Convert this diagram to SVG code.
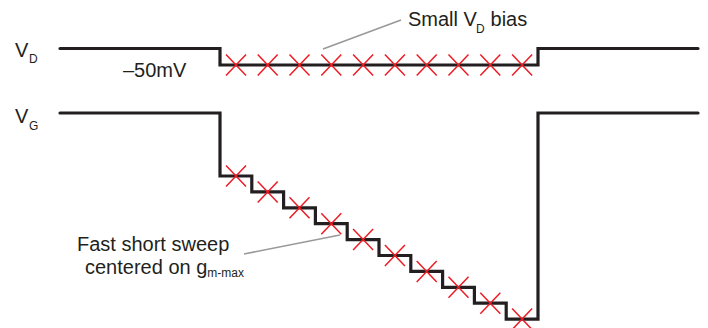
<svg xmlns="http://www.w3.org/2000/svg" xmlns:xlink="http://www.w3.org/1999/xlink" width="708" height="328" viewBox="0 0 708 328">
  <style>
    .trace { fill: none; stroke: #231f20; stroke-width: 3.2; stroke-linejoin: miter; stroke-linecap: round; }
    .mark { fill: none; stroke: #ed1c24; stroke-width: 1.5; }
    .leader { fill: none; stroke: #999999; stroke-width: 1.6; }
    .lbl { font-family: "Liberation Sans", Arial, sans-serif; font-size: 20px; fill: #231f20; }
    .sig { font-family: "Liberation Sans", Arial, sans-serif; font-size: 20px; fill: #231f20; }
    .sub { font-size: 12px; }
  </style>
  <defs>
    <!-- sample point marker -->
    <path id="x" class="mark" d="M-10,-10.5 L10,10.5 M-10,10.5 L10,-10.5"/>
  </defs>

  <!-- drain voltage: -50 mV pulse -->
  <g id="vd-trace">
    <path class="trace" d="M60,48.5 H220 V65 H538 V48.5 H698"/>
    <g id="vd-samples">
      <use xlink:href="#x" x="236" y="65"/>
      <use xlink:href="#x" x="267.7" y="65"/>
      <use xlink:href="#x" x="299.5" y="65"/>
      <use xlink:href="#x" x="331.3" y="65"/>
      <use xlink:href="#x" x="363.1" y="65"/>
      <use xlink:href="#x" x="394.9" y="65"/>
      <use xlink:href="#x" x="426.7" y="65"/>
      <use xlink:href="#x" x="458.5" y="65"/>
      <use xlink:href="#x" x="490.3" y="65"/>
      <use xlink:href="#x" x="522.1" y="65"/>
    </g>
  </g>

  <!-- gate voltage: staircase sweep -->
  <g id="vg-trace">
    <path class="trace" d="M60,113 H220 V176 H251.8 V191.9 H283.6 V207.8 H315.4 V223.7 H347.2 V239.6 H379 V255.5 H410.8 V271.4 H442.6 V287.3 H474.4 V303.2 H506.2 V319.1 H538 V113 H698"/>
    <g id="vg-samples">
      <use xlink:href="#x" x="236" y="176"/>
      <use xlink:href="#x" x="267.7" y="191.9"/>
      <use xlink:href="#x" x="299.5" y="207.8"/>
      <use xlink:href="#x" x="331.3" y="223.7"/>
      <use xlink:href="#x" x="363.1" y="239.6"/>
      <use xlink:href="#x" x="394.9" y="255.5"/>
      <use xlink:href="#x" x="426.7" y="271.4"/>
      <use xlink:href="#x" x="458.5" y="287.3"/>
      <use xlink:href="#x" x="490.3" y="303.2"/>
      <use xlink:href="#x" x="522.1" y="319.1"/>
    </g>
  </g>

  <!-- callout leader lines -->
  <g id="connectors">
    <line class="leader" x1="323" y1="49" x2="401" y2="20"/>
    <line class="leader" x1="244" y1="254" x2="340" y2="235"/>
  </g>

  <g id="label-vd">
    <text class="sig" x="15" y="57">V<tspan class="sub" x="29" y="63">D</tspan></text>
  </g>
  <g id="label-vg">
    <text class="sig" x="15" y="123">V<tspan class="sub" x="29" y="130">G</tspan></text>
  </g>
  <g id="label-bias-level">
    <text class="lbl" x="123" y="77">–50mV</text>
  </g>
  <g id="label-small-bias">
    <text class="lbl" x="408" y="26">Small V<tspan class="sub" x="476" y="33">D</tspan><tspan x="485" y="26"> bias</tspan></text>
  </g>
  <g id="label-sweep">
    <text class="lbl" x="77" y="251">Fast short sweep</text>
    <text class="lbl" x="85" y="274">centered on g<tspan class="sub" font-size="13" dy="3">m-max</tspan></text>
  </g>
</svg>
